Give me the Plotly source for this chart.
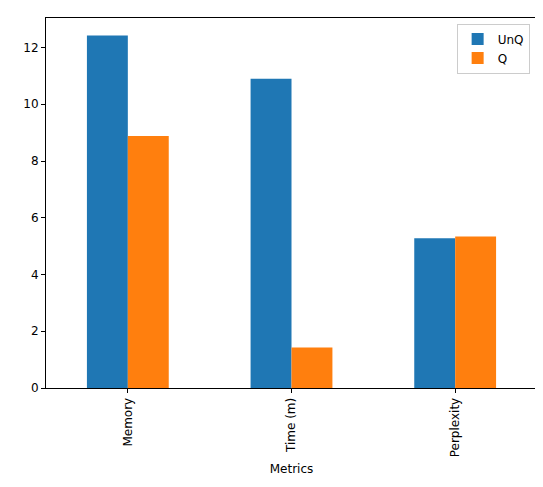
import plotly.graph_objects as go

categories = ["Memory", "Time (m)", "Perplexity"]
unq = [12.42, 10.9, 5.28]
q = [8.88, 1.43, 5.34]

fig = go.Figure()
fig.add_bar(x=categories, y=unq, name="UnQ", marker_color="#1f77b4", marker_line_width=0)
fig.add_bar(x=categories, y=q, name="Q", marker_color="#ff7f0e", marker_line_width=0)
ax = dict(showline=True, linecolor="black", linewidth=1, mirror=True, ticks="outside",
          ticklen=4, tickcolor="black", showgrid=False, zeroline=False, automargin=False,
          tickfont=dict(family="DejaVu Sans", size=12, color="black"))
fig.update_layout(
    width=543, height=487, margin=dict(l=38, r=14, t=10, b=107, autoexpand=False),
    plot_bgcolor="white", paper_bgcolor="white",
    barmode="group", bargap=0.5, bargroupgap=0,
    font=dict(family="DejaVu Sans", size=12, color="black"),
    legend=dict(x=0.985, y=0.985, xanchor="right", yanchor="top",
                bordercolor="#cccccc", borderwidth=1, font=dict(size=12)),
    xaxis=dict(**ax, tickangle=-90, range=[-0.5, 2.5],
               title=dict(text="Metrics", font=dict(size=12), standoff=8)),
    yaxis=dict(**ax, range=[0, 13.04], dtick=2),
)
fig.write_html("out.html")
